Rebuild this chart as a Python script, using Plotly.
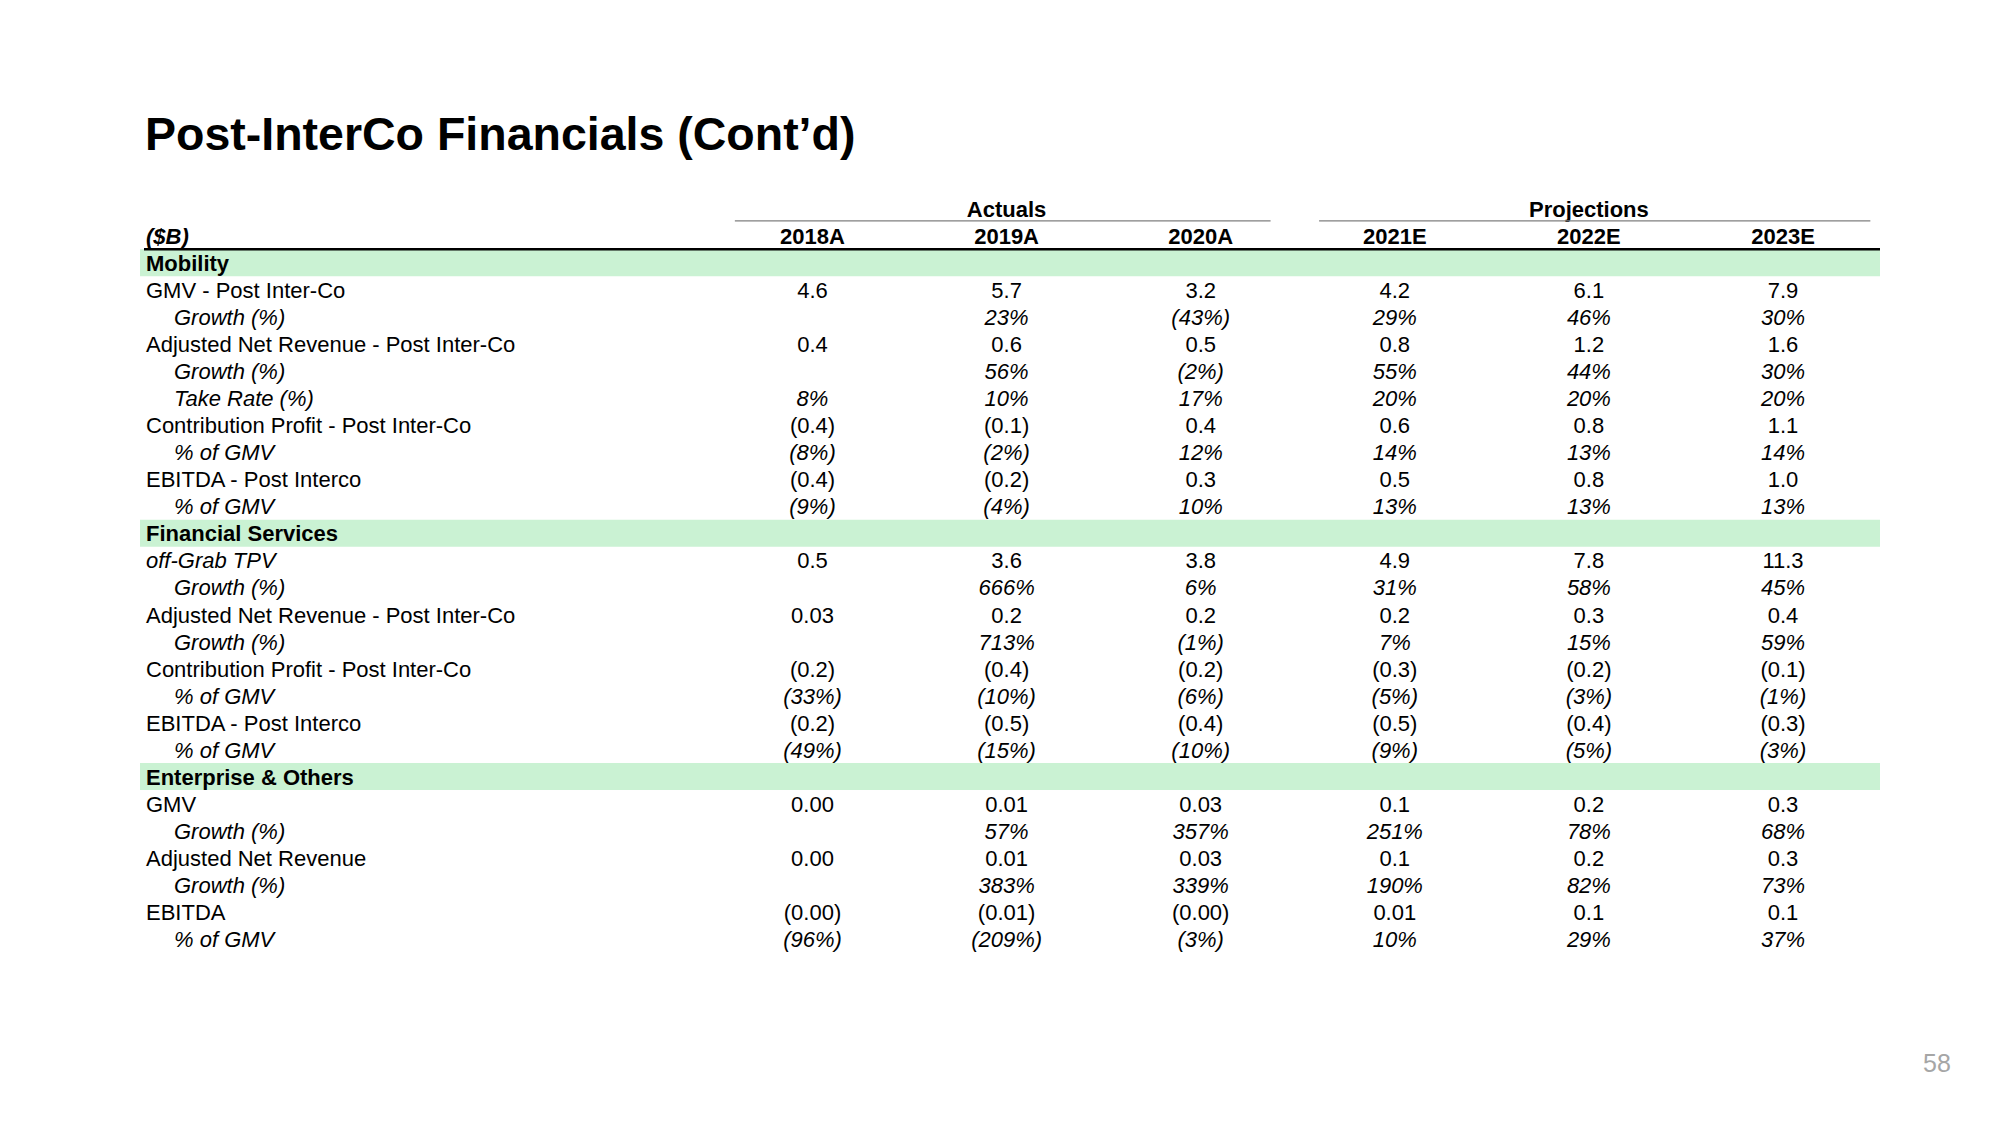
import plotly.graph_objects as go

# ---------------- data ----------------
title = "Post-InterCo Financials (Cont’d)"
page_number = "58"
unit_label = "($B)"
years = ["2018A", "2019A", "2020A", "2021E", "2022E", "2023E"]
groups = ["Actuals", "Projections"]
group_cols = [[0, 1, 2], [3, 4, 5]]

sections = ["Mobility", "Financial Services", "Enterprise & Others"]

mobility_labels = ["GMV - Post Inter-Co", "Growth (%)", "Adjusted Net Revenue - Post Inter-Co",
                   "Growth (%)", "Take Rate (%)", "Contribution Profit - Post Inter-Co",
                   "% of GMV", "EBITDA - Post Interco", "% of GMV"]
mobility_kinds = ["main", "sub", "main", "sub", "sub", "main", "sub", "main", "sub"]
mobility_values = [
    ["4.6", "5.7", "3.2", "4.2", "6.1", "7.9"],
    ["", "23%", "(43%)", "29%", "46%", "30%"],
    ["0.4", "0.6", "0.5", "0.8", "1.2", "1.6"],
    ["", "56%", "(2%)", "55%", "44%", "30%"],
    ["8%", "10%", "17%", "20%", "20%", "20%"],
    ["(0.4)", "(0.1)", "0.4", "0.6", "0.8", "1.1"],
    ["(8%)", "(2%)", "12%", "14%", "13%", "14%"],
    ["(0.4)", "(0.2)", "0.3", "0.5", "0.8", "1.0"],
    ["(9%)", "(4%)", "10%", "13%", "13%", "13%"],
]

fin_labels = ["off-Grab TPV", "Growth (%)", "Adjusted Net Revenue - Post Inter-Co", "Growth (%)",
              "Contribution Profit - Post Inter-Co", "% of GMV", "EBITDA - Post Interco", "% of GMV"]
fin_kinds = ["main_i", "sub", "main", "sub", "main", "sub", "main", "sub"]
fin_values = [
    ["0.5", "3.6", "3.8", "4.9", "7.8", "11.3"],
    ["", "666%", "6%", "31%", "58%", "45%"],
    ["0.03", "0.2", "0.2", "0.2", "0.3", "0.4"],
    ["", "713%", "(1%)", "7%", "15%", "59%"],
    ["(0.2)", "(0.4)", "(0.2)", "(0.3)", "(0.2)", "(0.1)"],
    ["(33%)", "(10%)", "(6%)", "(5%)", "(3%)", "(1%)"],
    ["(0.2)", "(0.5)", "(0.4)", "(0.5)", "(0.4)", "(0.3)"],
    ["(49%)", "(15%)", "(10%)", "(9%)", "(5%)", "(3%)"],
]

ent_labels = ["GMV", "Growth (%)", "Adjusted Net Revenue", "Growth (%)", "EBITDA", "% of GMV"]
ent_kinds = ["main", "sub", "main", "sub", "main", "sub"]
ent_values = [
    ["0.00", "0.01", "0.03", "0.1", "0.2", "0.3"],
    ["", "57%", "357%", "251%", "78%", "68%"],
    ["0.00", "0.01", "0.03", "0.1", "0.2", "0.3"],
    ["", "383%", "339%", "190%", "82%", "73%"],
    ["(0.00)", "(0.01)", "(0.00)", "0.01", "0.1", "0.1"],
    ["(96%)", "(209%)", "(3%)", "10%", "29%", "37%"],
]

section_labels = [mobility_labels, fin_labels, ent_labels]
section_kinds = [mobility_kinds, fin_kinds, ent_kinds]
section_values = [mobility_values, fin_values, ent_values]

# ---------------- layout constants (styling) ----------------
PAGE_W, PAGE_H = 2000, 1125
OFF = 8                                # default body margin of the html page
W, H = PAGE_W - 2 * OFF, PAGE_H - 2 * OFF
COL_PX0, COL_STEP = 812.5 - OFF, 194.1     # first data column centre (figure px), step
ROW_PX0, ROW_STEP = 262.8 - OFF, 27.04     # first table row centre (figure px), step
TEXT_DY = 0.1                              # small downward nudge of text within a row
FONT = "Liberation Sans, Arial, Helvetica, sans-serif"
FS = 22
GREEN = "#caf2d3"

def px_to_x(px_page):
    return (px_page - OFF - COL_PX0) / COL_STEP

X_LABEL = px_to_x(146)
X_INDENT = px_to_x(174)
X_BAND_L = px_to_x(140)
X_BAND_R = px_to_x(1880)
X_RULE_L = px_to_x(144)

# ---------------- build rows ----------------
label_x, label_y, label_t = [], [], []
val_x, val_y, val_t = [], [], []
band_rows = []
r = 0
for s, name in enumerate(sections):
    band_rows.append(r)
    label_x.append(X_LABEL); label_y.append(r + TEXT_DY); label_t.append(f"<b>{name}</b>")
    r += 1
    for lab, kind, vals in zip(section_labels[s], section_kinds[s], section_values[s]):
        italic = kind in ("sub", "main_i")
        label_x.append(X_INDENT if kind == "sub" else X_LABEL)
        label_y.append(r + TEXT_DY)
        label_t.append(f"<i>{lab}</i>" if italic else lab)
        for c, v in enumerate(vals):
            if v:
                val_x.append(c); val_y.append(r + TEXT_DY)
                val_t.append(f"<i>{v}</i>" if kind == "sub" else v)
        r += 1

fig = go.Figure()

fig.add_trace(go.Scatter(x=label_x, y=label_y, text=label_t, mode="text",
                         textposition="middle right",
                         textfont=dict(family=FONT, size=FS, color="black"),
                         hoverinfo="skip", showlegend=False))
fig.add_trace(go.Scatter(x=val_x, y=val_y, text=val_t, mode="text",
                         textposition="middle center",
                         textfont=dict(family=FONT, size=FS, color="black"),
                         hoverinfo="skip", showlegend=False))
fig.add_trace(go.Scatter(x=list(range(len(years))), y=[-1 + TEXT_DY] * len(years),
                         text=[f"<b>{y}</b>" for y in years], mode="text",
                         textposition="middle center",
                         textfont=dict(family=FONT, size=FS, color="black"),
                         hoverinfo="skip", showlegend=False))
fig.add_trace(go.Scatter(x=[sum(g) / len(g) for g in group_cols],
                         y=[-2 + TEXT_DY] * len(groups),
                         text=[f"<b>{g}</b>" for g in groups], mode="text",
                         textposition="middle center",
                         textfont=dict(family=FONT, size=FS, color="black"),
                         hoverinfo="skip", showlegend=False))
fig.add_trace(go.Scatter(x=[X_LABEL], y=[-1 + TEXT_DY], text=[f"<b><i>{unit_label}</i></b>"],
                         mode="text", textposition="middle right",
                         textfont=dict(family=FONT, size=FS, color="black"),
                         hoverinfo="skip", showlegend=False))

shapes = []
for br in band_rows:
    shapes.append(dict(type="rect", xref="x", yref="y", x0=X_BAND_L, x1=X_BAND_R,
                       y0=br - 0.5, y1=br + 0.5, fillcolor=GREEN, line=dict(width=0),
                       layer="below"))
shapes.append(dict(type="line", xref="x", yref="y", x0=X_RULE_L, x1=X_BAND_R,
                   y0=-0.5, y1=-0.5, line=dict(color="black", width=2.5)))
group_pads = [(0.40, 0.36), (0.39, 0.45)]
for g, (pl, pr) in zip(group_cols, group_pads):
    shapes.append(dict(type="line", xref="x", yref="y", x0=g[0] - pl, x1=g[-1] + pr,
                       y0=-1.55, y1=-1.55, line=dict(color="#7f7f7f", width=1.2)))

annotations = [
    dict(text=f"<b>{title}</b>", xref="paper", yref="paper", x=(143 - OFF) / W,
         y=1 - (134 - OFF) / H, xanchor="left", yanchor="middle", showarrow=False,
         font=dict(family=FONT, size=46.5, color="black")),
    dict(text=page_number, xref="paper", yref="paper", x=(1937 - OFF) / W,
         y=1 - (1063 - OFF) / H, xanchor="center", yanchor="middle", showarrow=False,
         font=dict(family=FONT, size=25, color="#a6a6a6")),
]

fig.update_layout(
    width=W, height=H, margin=dict(l=0, r=0, t=0, b=0),
    paper_bgcolor="white", plot_bgcolor="white",
    xaxis=dict(range=[(0 - COL_PX0) / COL_STEP, (W - COL_PX0) / COL_STEP],
               visible=False, fixedrange=True),
    yaxis=dict(range=[(H - ROW_PX0) / ROW_STEP, -ROW_PX0 / ROW_STEP], visible=False,
               fixedrange=True),
    shapes=shapes, annotations=annotations, showlegend=False,
)

fig.write_html("out.html")
